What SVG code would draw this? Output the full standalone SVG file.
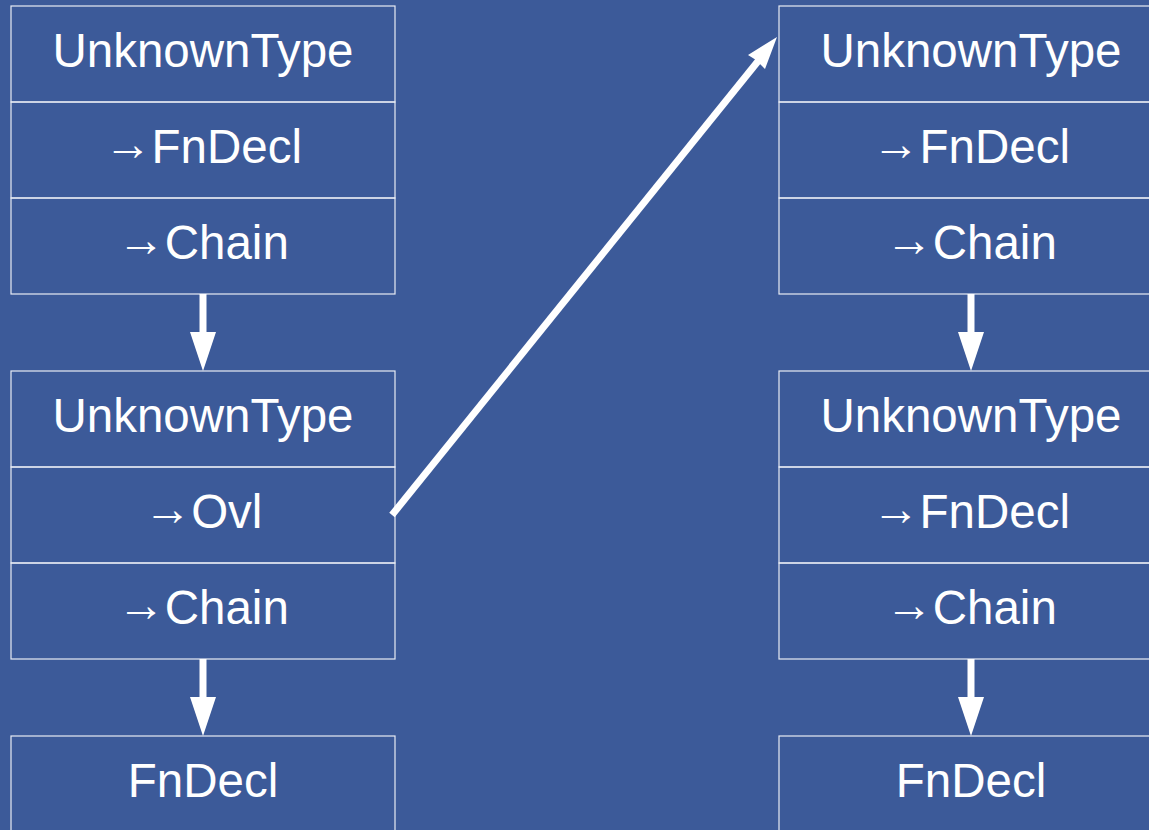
<svg xmlns="http://www.w3.org/2000/svg" width="1149" height="830" viewBox="0 0 1149 830">
  <style>
    .cell { fill: none; stroke: #e8ecf4; stroke-width: 1.2; }
    .lbl { font-family: "Liberation Sans", Arial, sans-serif; font-size: 47.5px; fill: #ffffff; text-anchor: middle; }
    .link { stroke: #ffffff; stroke-width: 7; fill: none; }
    .head { fill: #ffffff; }
  </style>
  <rect width="1149" height="830" fill="#3c5a99"/>

  <!-- left column -->
  <g id="left-entry-1">
    <rect class="cell" x="11" y="6" width="384" height="96"/>
    <rect class="cell" x="11" y="102" width="384" height="96"/>
    <rect class="cell" x="11" y="198" width="384" height="96"/>
    <text class="lbl" x="203" y="67">UnknownType</text>
    <text class="lbl" x="203" y="163"><tspan dy="-3">→</tspan><tspan dy="3">FnDecl</tspan></text>
    <text class="lbl" x="203" y="259"><tspan dy="-3">→</tspan><tspan dy="3">Chain</tspan></text>
  </g>
  <g id="left-entry-2">
    <rect class="cell" x="11" y="371" width="384" height="96"/>
    <rect class="cell" x="11" y="467" width="384" height="96"/>
    <rect class="cell" x="11" y="563" width="384" height="96"/>
    <text class="lbl" x="203" y="432">UnknownType</text>
    <text class="lbl" x="203" y="528"><tspan dy="-3">→</tspan><tspan dy="3">Ovl</tspan></text>
    <text class="lbl" x="203" y="624"><tspan dy="-3">→</tspan><tspan dy="3">Chain</tspan></text>
  </g>
  <g id="left-fndecl">
    <rect class="cell" x="11" y="736" width="384" height="110"/>
    <text class="lbl" x="203" y="797">FnDecl</text>
  </g>

  <!-- right column -->
  <g id="right-entry-1">
    <rect class="cell" x="779" y="6" width="384" height="96"/>
    <rect class="cell" x="779" y="102" width="384" height="96"/>
    <rect class="cell" x="779" y="198" width="384" height="96"/>
    <text class="lbl" x="971" y="67">UnknownType</text>
    <text class="lbl" x="971" y="163"><tspan dy="-3">→</tspan><tspan dy="3">FnDecl</tspan></text>
    <text class="lbl" x="971" y="259"><tspan dy="-3">→</tspan><tspan dy="3">Chain</tspan></text>
  </g>
  <g id="right-entry-2">
    <rect class="cell" x="779" y="371" width="384" height="96"/>
    <rect class="cell" x="779" y="467" width="384" height="96"/>
    <rect class="cell" x="779" y="563" width="384" height="96"/>
    <text class="lbl" x="971" y="432">UnknownType</text>
    <text class="lbl" x="971" y="528"><tspan dy="-3">→</tspan><tspan dy="3">FnDecl</tspan></text>
    <text class="lbl" x="971" y="624"><tspan dy="-3">→</tspan><tspan dy="3">Chain</tspan></text>
  </g>
  <g id="right-fndecl">
    <rect class="cell" x="779" y="736" width="384" height="110"/>
    <text class="lbl" x="971" y="797">FnDecl</text>
  </g>

  <!-- connectors -->
  <g id="connectors">
    <line class="link" x1="203" y1="294" x2="203" y2="334"/>
    <polygon class="head" points="190,332 216,332 203,371"/>
    <line class="link" x1="203" y1="659" x2="203" y2="699"/>
    <polygon class="head" points="190,697 216,697 203,736"/>
    <line class="link" x1="971" y1="294" x2="971" y2="334"/>
    <polygon class="head" points="958,332 984,332 971,371"/>
    <line class="link" x1="971" y1="659" x2="971" y2="699"/>
    <polygon class="head" points="958,697 984,697 971,736"/>
    <line class="link" x1="392" y1="515" x2="759" y2="60" stroke-width="6"/>
    <polygon class="head" points="777,37 765,69 756,60 748,55"/>
  </g>
</svg>
